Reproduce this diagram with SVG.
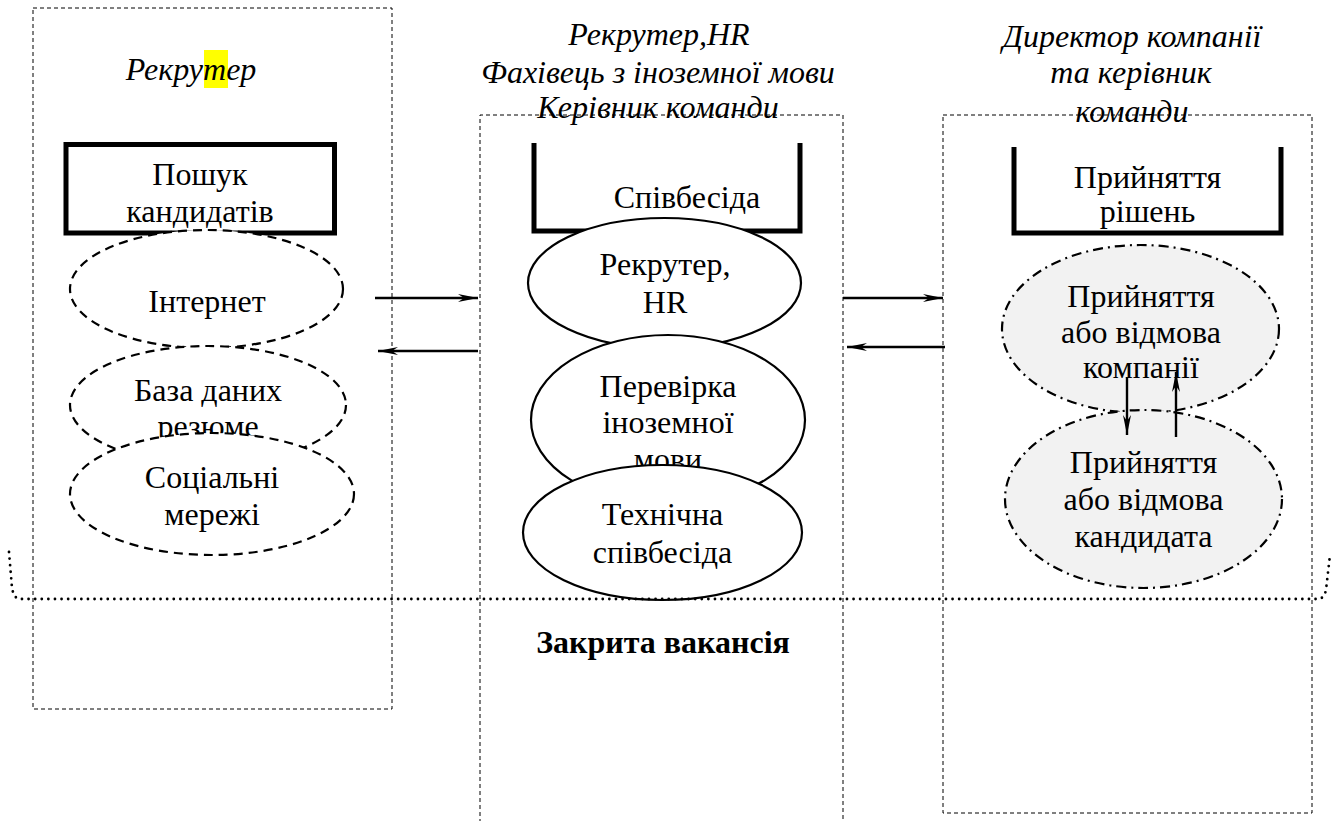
<svg xmlns="http://www.w3.org/2000/svg" width="1336" height="821" viewBox="0 0 1336 821">
<style>
text{font-family:"Liberation Serif","Times New Roman",serif;font-size:32px;fill:#000;text-anchor:middle}
.it{font-style:italic}
.bold{font-weight:bold}
.lane{fill:none;stroke:#000;stroke-width:1;stroke-dasharray:4 3}
.thick{fill:none;stroke:#000;stroke-width:5}
.dash{fill:#fff;stroke:#000;stroke-width:2.2;stroke-dasharray:9 6}
.solid{fill:#fff;stroke:#000;stroke-width:2.2}
.dd{fill:#f2f2f2;stroke:#000;stroke-width:2.2;stroke-dasharray:10 5 2 5}
.arrow{fill:none;stroke:#000;stroke-width:2.4;marker-end:url(#ah)}
.dots{fill:none;stroke:#000;stroke-width:2.8;stroke-dasharray:0 6.6;stroke-linecap:round}
</style>
<defs>
<marker id="ah" viewBox="0 0 20 10" refX="20" refY="5" markerWidth="20" markerHeight="10" markerUnits="userSpaceOnUse" orient="auto">
<path d="M0,1 L20,5 L0,9 L6,5 z" fill="#000"/>
</marker>
</defs>

<g id="lane-recruiter">
<rect class="lane" x="33" y="8" width="359" height="701"/>
<rect x="204" y="50" width="24" height="38" fill="#ffff00"/>
<text class="it" x="191" y="80">Рекрутер</text>
</g>
<g id="lane-interview">
<text class="it" x="659" y="45">Рекрутер,HR</text>
<text class="it" x="658" y="83">Фахівець з іноземної мови</text>
<text class="it" x="658" y="118">Керівник команди</text>
<path class="lane" d="M480,830 V115 H843 V830"/>
</g>
<g id="lane-decision">
<text class="it" x="1132" y="47">Директор компанії</text>
<text class="it" x="1131" y="83">та керівник</text>
<text class="it" x="1132" y="122">команди</text>
<rect class="lane" x="943" y="115" width="369" height="698"/>
</g>

<g id="search">
<rect class="thick" x="66" y="144.5" width="268.5" height="88.5"/>
<text x="200" y="185">Пошук</text>
<text x="200" y="222">кандидатів</text>
</g>
<g id="internet">
<ellipse class="dash" cx="206.5" cy="289" rx="136.5" ry="59"/>
<text x="207" y="312">Інтернет</text>
</g>
<g id="resume-db">
<ellipse class="dash" cx="208" cy="405" rx="138" ry="59"/>
<text x="208" y="401">База даних</text>
<text x="208" y="437">резюме</text>
</g>
<g id="social">
<ellipse class="dash" cx="212" cy="494" rx="142" ry="61"/>
<text x="212" y="488">Соціальні</text>
<text x="212" y="525">мережі</text>
</g>

<g id="interview">
<path class="thick" d="M534,143 V231 H800 V143"/>
<text x="687" y="208">Співбесіда</text>
</g>
<g id="hr">
<ellipse class="solid" cx="664.5" cy="283" rx="136.5" ry="65"/>
<text x="665" y="275">Рекрутер,</text>
<text x="665" y="313">HR</text>
</g>
<g id="language">
<ellipse class="solid" cx="668" cy="420" rx="137" ry="85"/>
<text x="668" y="397">Перевірка</text>
<text x="668" y="433">іноземної</text>
<text x="668" y="470">мови</text>
</g>
<g id="tech">
<ellipse class="solid" cx="662.5" cy="532.5" rx="139.5" ry="67.5"/>
<text x="662.5" y="525">Технічна</text>
<text x="662.5" y="563">співбесіда</text>
</g>

<g id="decision">
<path class="thick" d="M1014,147 V233 H1281 V147"/>
<text x="1147.5" y="188">Прийняття</text>
<text x="1147.5" y="222">рішень</text>
</g>
<g id="company-decision">
<ellipse class="dd" cx="1140.5" cy="329" rx="138.5" ry="84"/>
<text x="1141" y="307">Прийняття</text>
<text x="1141" y="343">або відмова</text>
<text x="1141" y="378">компанії</text>
</g>
<g id="candidate-decision">
<ellipse class="dd" cx="1143.5" cy="499" rx="138.5" ry="89"/>
<text x="1143.5" y="473">Прийняття</text>
<text x="1143.5" y="510">або відмова</text>
<text x="1143.5" y="547">кандидата</text>
</g>

<g id="closed">
<path class="dots" d="M9,552 L12,588 Q14,599 20,599 L1318,599 Q1324,599 1326,590 L1330,555"/>
<text class="bold" x="663" y="653">Закрита вакансія</text>
</g>

<g id="connectors">
<line class="arrow" x1="375" y1="298" x2="478" y2="298"/>
<line class="arrow" x1="478" y1="351" x2="378" y2="351"/>
<line class="arrow" x1="843" y1="298" x2="943" y2="298"/>
<line class="arrow" x1="945" y1="347" x2="847" y2="347"/>
<line class="arrow" x1="1127" y1="377" x2="1127" y2="435"/>
<line class="arrow" x1="1176" y1="437" x2="1176" y2="372"/>
</g>
</svg>
